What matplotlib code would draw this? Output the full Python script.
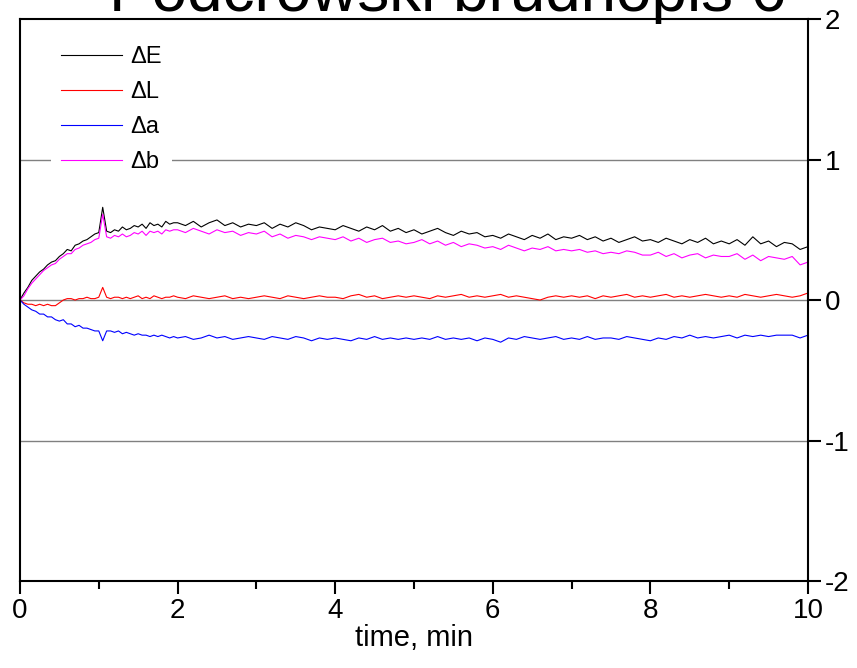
import numpy as np
import matplotlib.pyplot as plt
from matplotlib.ticker import MultipleLocator

plt.rcParams['font.family'] = ['Liberation Sans', 'DejaVu Sans']
plt.rcParams['axes.unicode_minus'] = False

# time axis, min: finer steps in the first two minutes
time = np.concatenate([np.arange(0, 2, 0.05), np.arange(2, 10.001, 0.1)])

dE = [0, 0.05, 0.09, 0.14, 0.17, 0.20, 0.22, 0.25, 0.27, 0.28,
      0.31, 0.33, 0.36, 0.35, 0.39, 0.40, 0.42, 0.43, 0.45, 0.47,
      0.48, 0.66, 0.49, 0.48, 0.50, 0.49, 0.52, 0.50, 0.51, 0.53,
      0.52, 0.54, 0.51, 0.55, 0.53, 0.54, 0.52, 0.56, 0.54, 0.55,
      0.55, 0.53, 0.56, 0.52, 0.55, 0.57, 0.53, 0.55, 0.52, 0.54,
      0.53, 0.55, 0.51, 0.54, 0.52, 0.55, 0.53, 0.50, 0.52, 0.51,
      0.50, 0.53, 0.51, 0.49, 0.52, 0.50, 0.53, 0.49, 0.51, 0.48,
      0.50, 0.47, 0.49, 0.51, 0.48, 0.46, 0.49, 0.47, 0.48, 0.45,
      0.46, 0.44, 0.47, 0.45, 0.43, 0.46, 0.44, 0.47, 0.43, 0.45,
      0.44, 0.46, 0.43, 0.45, 0.42, 0.44, 0.41, 0.43, 0.45, 0.42,
      0.43, 0.41, 0.44, 0.42, 0.40, 0.43, 0.41, 0.44, 0.40, 0.42,
      0.40, 0.43, 0.39, 0.45, 0.40, 0.42, 0.38, 0.41, 0.40, 0.36,
      0.38]

dL = [0, -0.02, -0.03, -0.03, -0.04, -0.03, -0.04, -0.03, -0.04, -0.04,
      -0.02, 0.0, 0.01, 0.01, 0.0, 0.01, 0.01, 0.02, 0.01, 0.01,
      0.02, 0.09, 0.02, 0.01, 0.02, 0.02, 0.01, 0.02, 0.01, 0.02,
      0.03, 0.01, 0.02, 0.01, 0.03, 0.02, 0.01, 0.02, 0.02, 0.03,
      0.02, 0.01, 0.03, 0.02, 0.01, 0.02, 0.03, 0.01, 0.02, 0.01,
      0.02, 0.03, 0.02, 0.01, 0.03, 0.02, 0.01, 0.02, 0.03, 0.02,
      0.02, 0.01, 0.03, 0.04, 0.02, 0.03, 0.01, 0.02, 0.03, 0.02,
      0.03, 0.02, 0.01, 0.03, 0.02, 0.03, 0.04, 0.02, 0.03, 0.02,
      0.03, 0.04, 0.02, 0.03, 0.02, 0.01, 0.00, 0.02, 0.03, 0.02,
      0.03, 0.02, 0.03, 0.01, 0.03, 0.02, 0.03, 0.04, 0.02, 0.03,
      0.02, 0.03, 0.04, 0.02, 0.03, 0.02, 0.03, 0.04, 0.03, 0.02,
      0.03, 0.02, 0.04, 0.03, 0.02, 0.03, 0.04, 0.03, 0.02, 0.03,
      0.05]

da = [0, -0.03, -0.05, -0.07, -0.08, -0.10, -0.10, -0.12, -0.12, -0.14,
      -0.15, -0.14, -0.17, -0.17, -0.19, -0.18, -0.20, -0.20, -0.21, -0.22,
      -0.22, -0.29, -0.22, -0.22, -0.23, -0.22, -0.24, -0.23, -0.24, -0.25,
      -0.24, -0.25, -0.25, -0.26, -0.25, -0.26, -0.25, -0.26, -0.27, -0.26,
      -0.27, -0.26, -0.28, -0.27, -0.25, -0.27, -0.26, -0.28, -0.27, -0.26,
      -0.27, -0.28, -0.26, -0.27, -0.28, -0.26, -0.27, -0.29, -0.27, -0.28,
      -0.27, -0.28, -0.29, -0.27, -0.28, -0.26, -0.28, -0.27, -0.28, -0.27,
      -0.28, -0.27, -0.28, -0.26, -0.28, -0.27, -0.28, -0.27, -0.29, -0.27,
      -0.28, -0.30, -0.27, -0.28, -0.26, -0.27, -0.28, -0.27, -0.26, -0.28,
      -0.27, -0.28, -0.26, -0.28, -0.27, -0.27, -0.28, -0.26, -0.27, -0.28,
      -0.29, -0.27, -0.28, -0.26, -0.27, -0.25, -0.27, -0.26, -0.27, -0.26,
      -0.25, -0.27, -0.25, -0.26, -0.25, -0.26, -0.25, -0.25, -0.25, -0.27,
      -0.25]

db = [0, 0.03, 0.08, 0.12, 0.15, 0.18, 0.21, 0.23, 0.25, 0.26,
      0.29, 0.31, 0.33, 0.33, 0.36, 0.37, 0.39, 0.40, 0.41, 0.43,
      0.44, 0.61, 0.45, 0.44, 0.46, 0.45, 0.47, 0.45, 0.46, 0.48,
      0.47, 0.49, 0.46, 0.49, 0.48, 0.49, 0.47, 0.50, 0.49, 0.50,
      0.50, 0.48, 0.51, 0.49, 0.47, 0.50, 0.48, 0.49, 0.46, 0.48,
      0.47, 0.49, 0.45, 0.47, 0.44, 0.46, 0.45, 0.43, 0.45, 0.44,
      0.43, 0.45, 0.42, 0.44, 0.41, 0.43, 0.44, 0.41, 0.42, 0.40,
      0.41, 0.43, 0.40, 0.42, 0.39, 0.41, 0.38, 0.40, 0.39, 0.37,
      0.38, 0.36, 0.39, 0.37, 0.35, 0.37, 0.36, 0.38, 0.35, 0.36,
      0.35, 0.36, 0.34, 0.35, 0.33, 0.34, 0.33, 0.35, 0.34, 0.32,
      0.32, 0.34, 0.31, 0.33, 0.30, 0.32, 0.33, 0.30, 0.32, 0.31,
      0.31, 0.33, 0.29, 0.32, 0.28, 0.31, 0.30, 0.29, 0.31, 0.25,
      0.27]

fig = plt.figure(figsize=(8.57, 6.68), dpi=100)
ax = fig.add_axes([0.0233, 0.1302, 0.9195, 0.8413])

for y in (1, 0, -1):
    ax.axhline(y, color='#808080', lw=1, zorder=1)

ax.plot(time, dE, color='black', lw=0.8, label='ΔE')
ax.plot(time, dL, color='red', lw=0.8, label='ΔL')
ax.plot(time, da, color='blue', lw=0.8, label='Δa')
ax.plot(time, db, color='magenta', lw=0.8, label='Δb')

ax.set_xlim(0, 10)
ax.set_ylim(-2, 2)
ax.xaxis.set_major_locator(MultipleLocator(2))
ax.xaxis.set_minor_locator(MultipleLocator(1))
ax.yaxis.set_major_locator(MultipleLocator(1))
ax.yaxis.tick_right()
ax.tick_params(axis='both', which='major', direction='out', length=9, width=1.5,
               labelsize=20, pad=3)
ax.tick_params(axis='x', which='minor', direction='out', length=6, width=1.5)
for s in ax.spines.values():
    s.set_linewidth(1.5)

ax.set_xlabel('time, min', fontsize=21, labelpad=0)

leg = ax.legend(loc='upper left', bbox_to_anchor=(0.025, 0.99), frameon=True,
                fontsize=17, handlelength=2.6, handletextpad=0.35,
                labelspacing=0.55, borderpad=0.4)
leg.get_frame().set_edgecolor('none')
leg.get_frame().set_facecolor('white')
leg.get_frame().set_alpha(1)

fig.text(0.522, 0.983, 'Podcrowski brudnopis 6', ha='center', va='baseline',
         fontsize=46)

fig.savefig('out.png', dpi=100)
